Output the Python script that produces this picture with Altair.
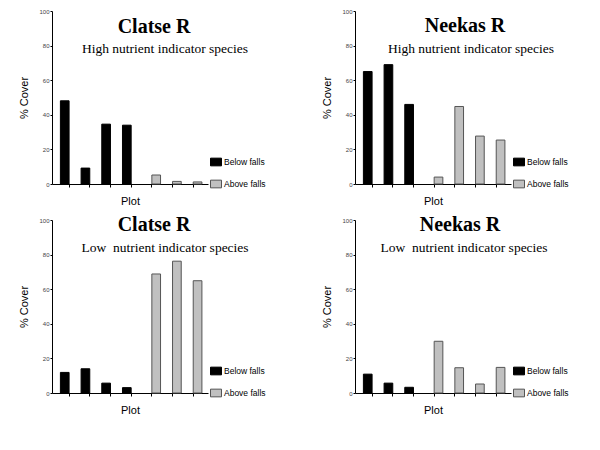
import pandas as pd
import altair as alt

# plot numbers along the x axis (no labels shown in the original)
plots = [1, 2, 3, 4, 5, 6, 7]
series = ["Below falls", "Above falls"]

# % cover
clatse_high_below = [48.1, 9.2, 34.6, 34.0]      # plots 1-4
clatse_high_above = [5.2, 1.5, 1.2]              # plots 5-7
neekas_high_below = [65.0, 69.0, 46.0]           # plots 1-3
neekas_high_above = [4.0, 44.8, 27.7, 25.4]      # plots 4-7
clatse_low_below = [11.9, 14.0, 5.7, 3.1]
clatse_low_above = [68.8, 76.2, 64.9]
neekas_low_below = [10.9, 5.7, 3.3]
neekas_low_above = [29.9, 14.6, 5.2, 14.8]

W, H = 156, 173


def make_df(below, above):
    rows = []
    for i, v in enumerate(below):
        rows.append({"plot": plots[i], "series": "Below falls", "cover": v})
    for i, v in enumerate(above):
        rows.append({"plot": plots[len(below) + i], "series": "Above falls", "cover": v})
    return pd.DataFrame(rows)


def panel(below, above, title, subtitle, tx, ty, sx, sy):
    df = make_df(below, above)
    bars = alt.Chart(df).mark_bar(strokeWidth=1).encode(
        x=alt.X("plot:O",
                scale=alt.Scale(domain=plots, paddingInner=0.16, paddingOuter=0.35, align=0.58),
                axis=alt.Axis(title="Plot", labels=False, tickSize=3, tickColor="black",
                              domainColor="black", titleFont="Liberation Sans",
                              titleFontSize=11, titleFontWeight="normal", titleColor="black",
                              titlePadding=8)),
        xOffset=alt.XOffset("series:N", scale=alt.Scale(domain=series)),
        y=alt.Y("cover:Q",
                scale=alt.Scale(domain=[0, 100]),
                axis=alt.Axis(title="% Cover", values=[0, 20, 40, 60, 80, 100], grid=False,
                              tickSize=2, tickColor="black", domainColor="black",
                              labelFont="Liberation Sans", labelFontSize=6, labelColor="#444",
                              labelPadding=1, titleFont="Liberation Sans", titleFontSize=11,
                              titleFontWeight="normal", titleColor="black", titlePadding=9)),
        fill=alt.Fill("series:N",
                      scale=alt.Scale(domain=series, range=["black", "#c0c0c0"]),
                      legend=alt.Legend(title=None, orient="none", legendX=158, legendY=145,
                                        symbolType="M-1,-0.7H1V0.7H-1Z", symbolSize=121,
                                        labelFont="Liberation Sans", labelFontSize=8.5,
                                        labelColor="black", rowPadding=10, padding=0,
                                        labelOffset=2, symbolStrokeWidth=1)),
        stroke=alt.Stroke("series:N",
                          scale=alt.Scale(domain=series, range=["black", "#555"]),
                          legend=None),
    )
    t = alt.Chart(pd.DataFrame({"t": [title]})).mark_text(
        font="Liberation Serif", fontSize=20, fontWeight="bold", baseline="alphabetic",
        color="black"
    ).encode(x=alt.value(tx), y=alt.value(ty), text="t:N")
    s = alt.Chart(pd.DataFrame({"t": [subtitle]})).mark_text(
        font="Liberation Serif", fontSize=13.5, baseline="alphabetic", color="black"
    ).encode(x=alt.value(sx), y=alt.value(sy), text="t:N")
    return (bars + t + s).properties(width=W, height=H)


p1 = panel(clatse_high_below, clatse_high_above, "Clatse R",
           "High nutrient indicator species", 102, 22, 113, 42)
p2 = panel(neekas_high_below, neekas_high_above, "Neekas R",
           "High nutrient indicator species", 110, 21, 116, 42)
p3 = panel(clatse_low_below, clatse_low_above, "Clatse R",
           "Low\u00a0 nutrient indicator species", 102, 11, 113, 32)
p4 = panel(neekas_low_below, neekas_low_above, "Neekas R",
           "Low\u00a0 nutrient indicator species", 105, 11, 109, 32)


def row(a, b):
    return alt.hconcat(a, b, spacing=55).resolve_legend(fill="independent", stroke="independent")


chart = alt.vconcat(
    row(p1, p2),
    row(p3, p4),
    spacing=8,
).resolve_legend(fill="independent", stroke="independent").properties(
    padding={"left": 10, "top": 0, "right": 0, "bottom": 0}
).configure(background="white").configure_view(stroke=None)

chart.save("out.html", embed_options={"renderer": "svg", "actions": False})
